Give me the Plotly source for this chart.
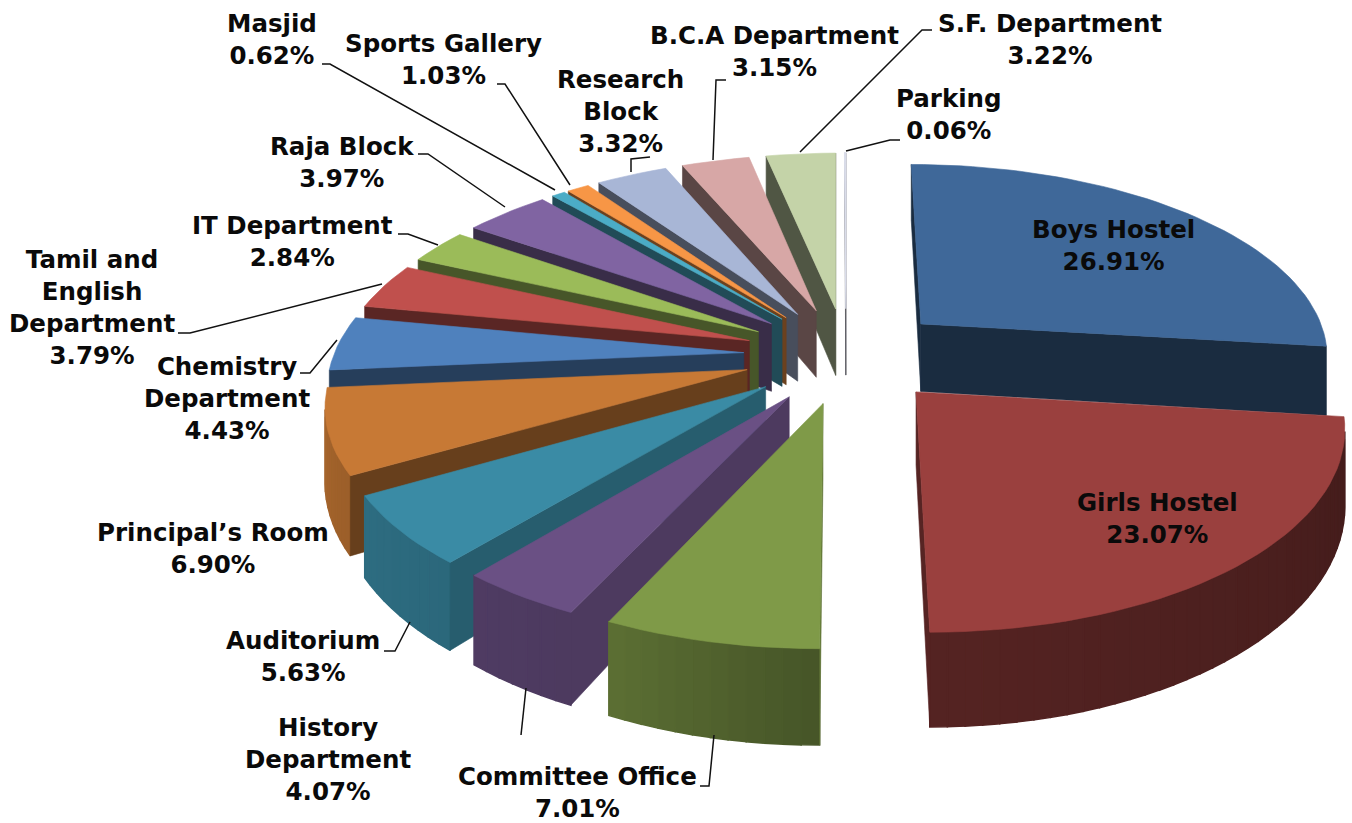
import math
import numpy as np
import plotly.graph_objects as go

names = ["Boys Hostel", "Girls Hostel", "Committee Office", "History Department", "Auditorium",
         "Principal's Room", "Chemistry Department", "Tamil and English Department", "IT Department",
         "Raja Block", "Masjid", "Sports Gallery", "Research Block", "B.C.A Department",
         "S.F. Department", "Parking"]
values = [26.91, 23.07, 7.01, 4.07, 5.63, 6.90, 4.43, 3.79, 2.84, 3.97, 0.62, 1.03, 3.32, 3.15, 3.22, 0.06]
colors = ["#3F6899", "#9A403E", "#7F9A48", "#6A5084", "#3A8BA5", "#C77935", "#4F81BD", "#C0504D",
          "#9BBB59", "#8064A2", "#4BACC6", "#F79646", "#A8B6D6", "#D7A7A6", "#C4D3A8", "#DADDEA"]

label_text = ["Boys Hostel<br>26.91%", "Girls Hostel<br>23.07%", "Committee Office<br>7.01%",
              "History<br>Department<br>4.07%", "Auditorium<br>5.63%", "Principal’s Room<br>6.90%",
              "Chemistry<br>Department<br>4.43%", "Tamil and<br>English<br>Department<br>3.79%",
              "IT Department<br>2.84%", "Raja Block<br>3.97%", "Masjid<br>0.62%", "Sports Gallery<br>1.03%",
              "Research<br>Block<br>3.32%", "B.C.A Department<br>3.15%", "S.F. Department<br>3.22%",
              "Parking<br>0.06%"]
label_pos = [(1113, 245), (1157, 518), (577, 792), (328, 759), (303, 656), (213, 548), (227, 398),
             (92, 307), (292, 241), (342, 162), (272, 39), (443, 59), (620, 111), (774, 51), (1050, 39),
             (949, 114)]
leaders = [[(700, 786), (709, 786), (714, 735)], [(521, 735), (526, 688)],
           [(384, 651), (395, 651), (410, 622)], [(300, 373), (310, 373), (337, 340)],
           [(178, 333), (190, 333), (382, 284)], [(398, 234), (408, 234), (438, 245)],
           [(418, 154), (428, 154), (505, 207)], [(322, 64), (330, 64), (555, 190)],
           [(497, 84), (505, 84), (570, 185)], [(631, 172), (631, 159), (650, 157)],
           [(713, 160), (716, 80), (726, 80)], [(800, 152), (922, 30), (932, 30)],
           [(846, 151), (890, 140), (900, 140)]]

# Projection of the tilted disc onto the page
X0, Y0, RX, RY, K, EXPLODE, HEIGHT, K2 = 846, 355, 410, 192, 0.15, 0.25, 70, 0.22


def project(u, v, raised=True):
    w = 1 - K * v
    x = X0 + RX * u / w
    y = Y0 + RY * v / w
    if not raised:
        y += HEIGHT / (1 - K2 * v)
    return x, y


def shade(hex_col, f):
    c = [int(hex_col[i:i + 2], 16) for i in (1, 3, 5)]
    return "#%02X%02X%02X" % tuple(min(255, int(round(a * f))) for a in c)


def wall_factor(deg):
    return float(np.interp(deg, [90, 180, 205, 240, 275, 360], [0.42, 0.55, 0.72, 0.78, 0.88, 0.88]))


def side_factor(deg):
    return float(np.interp(deg, [0, 100, 190, 215, 235, 255, 360], [0.42, 0.42, 0.75, 0.72, 0.65, 0.5, 0.4]))


def area(pts):
    return sum(pts[i][0] * pts[(i + 1) % len(pts)][1] - pts[(i + 1) % len(pts)][0] * pts[i][1]
               for i in range(len(pts))) / 2


fig = go.Figure()


def add_poly(pts, col, lw=0.6, name=None):
    xs = [p[0] for p in pts] + [pts[0][0]]
    ys = [p[1] for p in pts] + [pts[0][1]]
    fig.add_trace(go.Scatter(x=xs, y=ys, mode="lines", fill="toself", fillcolor=col,
                             line=dict(color=col, width=lw), hoverinfo="skip",
                             showlegend=False, name=name))


total = sum(values)
slices = []
cum = 0.0
for nm, val, col in zip(names, values, colors):
    a0 = cum / total * 2 * math.pi
    cum += val
    a1 = cum / total * 2 * math.pi
    slices.append((nm, a0, a1, col))

slices.sort(key=lambda s: -math.cos((s[1] + s[2]) / 2))

for nm, a0, a1, col in slices:
    mid = (a0 + a1) / 2
    cu, cv = EXPLODE * math.sin(mid), -EXPLODE * math.cos(mid)
    n = max(2, int(math.degrees(a1 - a0) / 2))
    angs = np.linspace(a0, a1, n + 1)
    rim = [(cu + math.sin(a), cv - math.cos(a)) for a in angs]

    # outer curved wall, in narrow strips so that the shading can change along it
    for i in range(n):
        quad = [project(*rim[i]), project(*rim[i + 1]),
                project(*rim[i + 1], raised=False), project(*rim[i], raised=False)]
        if area(quad) < 0:
            add_poly(quad, shade(col, wall_factor(math.degrees((angs[i] + angs[i + 1]) / 2))), lw=1.5, name=nm)

    # radial sides that face the viewer
    for p, q in (((cu, cv), rim[0]), (rim[-1], (cu, cv))):
        quad = [project(*p), project(*q), project(*q, raised=False), project(*p, raised=False)]
        if area(quad) < 0:
            add_poly(quad, shade(col, side_factor(math.degrees(mid))), name=nm)

    # top face
    top = [project(cu, cv)] + [project(*r) for r in rim]
    add_poly(top, col, lw=1.2 if a1 - a0 < 0.02 else 0.6, name=nm)

for pts in leaders:
    fig.add_trace(go.Scatter(x=[p[0] for p in pts], y=[p[1] for p in pts], mode="lines",
                             line=dict(color="#111111", width=1.5), hoverinfo="skip", showlegend=False))

for txt, (x, y) in zip(label_text, label_pos):
    fig.add_annotation(x=x, y=y, text="<b>%s</b>" % txt, showarrow=False, xanchor="center", yanchor="middle",
                       align="center", font=dict(family="DejaVu Sans", size=24.5, color="#0A0A0A"))

fig.update_layout(width=1352, height=823, margin=dict(l=0, r=0, t=0, b=0), paper_bgcolor="white",
                  plot_bgcolor="white", showlegend=False,
                  xaxis=dict(range=[0, 1352], visible=False, fixedrange=True),
                  yaxis=dict(range=[823, 0], visible=False, fixedrange=True))
fig.write_html("out.html", config={"displayModeBar": False, "responsive": False},
               post_script="document.body.style.margin='0';document.documentElement.style.overflow='hidden';")
